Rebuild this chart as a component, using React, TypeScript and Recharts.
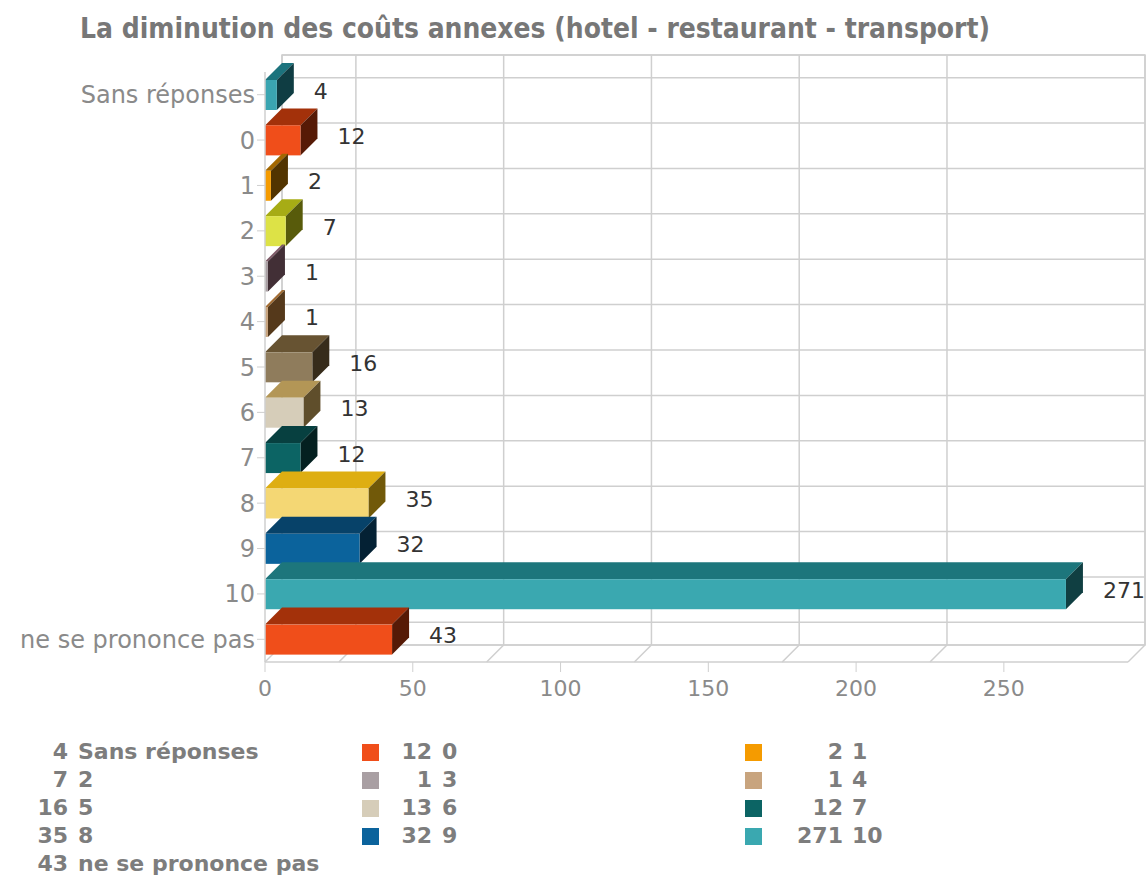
import React from 'react';
import {
  BarChart,
  Bar,
  XAxis,
  YAxis,
  CartesianGrid,
  Cell,
  LabelList,
  ReferenceArea,
  Legend,
} from 'recharts';

// ---------- data ----------
const categories = [
  'Sans réponses', '0', '1', '2', '3', '4', '5', '6', '7', '8', '9', '10', 'ne se prononce pas',
];
const counts = [4, 12, 2, 7, 1, 1, 16, 13, 12, 35, 32, 271, 43];
const barColors = [
  '#3aa5b1', '#f04e1a', '#f59b00', '#dde246', '#a99fa3', '#c8a47e', '#8f7c5c',
  '#d6cdb9', '#0c6464', '#f4d774', '#0b639c', '#3aa8b0', '#f04e1a',
];
const xTicks = [0, 50, 100, 150, 200, 250];
const gridValues = [25, 75, 125, 175, 225];
const xMax = 292;
const title = 'La diminution des coûts annexes (hotel - restaurant - transport)';

const data = categories.map((c, i) => ({ category: c, value: counts[i], color: barColors[i] }));

// ---------- layout ----------
const W = 1148;
const H = 878;
const DEPTH = 17;
const FONT = "'DejaVu Sans', Verdana, sans-serif";
const GRID = '#cfcfcf';

const legendSwatchX = [-17, 362, 745];
const legendValueRight = [68, 432, 843];
const legendLabelLeft = [78, 442, 852];
const legendRowH = 28;

function shade(hex: string, lf: number) {
  const n = parseInt(hex.slice(1), 16);
  const r = ((n >> 16) & 255) / 255;
  const g = ((n >> 8) & 255) / 255;
  const b = (n & 255) / 255;
  const max = Math.max(r, g, b);
  const min = Math.min(r, g, b);
  let h = 0;
  let s = 0;
  const l = (max + min) / 2;
  if (max !== min) {
    const d = max - min;
    s = l > 0.5 ? d / (2 - max - min) : d / (max + min);
    if (max === r) h = (g - b) / d + (g < b ? 6 : 0);
    else if (max === g) h = (b - r) / d + 2;
    else h = (r - g) / d + 4;
    h *= 60;
  }
  const s2 = Math.min(Math.max(s * 100, 78), s * 100 + 12);
  const l2 = l * 100 * lf;
  return `hsl(${h.toFixed(0)},${s2.toFixed(0)}%,${l2.toFixed(0)}%)`;
}

const Box3D = (props: any) => {
  const { x, y, width, height, fill } = props;
  if (width == null || height == null) return null;
  const d = DEPTH;
  return (
    <g>
      <polygon
        points={`${x},${y} ${x + d},${y - d} ${x + width + d},${y - d} ${x + width},${y}`}
        fill={shade(fill, 0.66)}
      />
      <polygon
        points={`${x + width},${y} ${x + width + d},${y - d} ${x + width + d},${y + height - d} ${x + width},${y + height}`}
        fill={shade(fill, 0.34)}
      />
      <rect x={x} y={y} width={width} height={height} fill={fill} />
    </g>
  );
};

const ValueLabel = (props: any) => {
  const { x, y, width, height, value } = props;
  return (
    <text
      x={Number(x) + Number(width) + DEPTH + 20}
      y={Number(y) + Number(height) / 2 - 4}
      dominantBaseline="central"
      fontSize={22}
      fill="#333"
      fontFamily={FONT}
    >
      {value}
    </text>
  );
};

// floor / wall diagonal from the back plane to the front edge
const FloorTick = (props: any) => {
  const { x, y } = props;
  return <line x1={x} y1={y} x2={x - DEPTH} y2={y + DEPTH} stroke={GRID} strokeWidth={1.5} />;
};

const LegendContent = () => (
  <div
    style={{
      position: 'relative',
      width: W,
      height: 5 * legendRowH,
      fontFamily: FONT,
      fontWeight: 'bold',
      fontSize: 22,
      color: '#7d7d7d',
      lineHeight: `${legendRowH}px`,
    }}
  >
    {data.map((d, i) => {
      const col = i % 3;
      const row = Math.floor(i / 3);
      return (
        <React.Fragment key={d.category}>
          <div
            style={{
              position: 'absolute',
              left: legendSwatchX[col],
              top: row * legendRowH + 6,
              width: 17,
              height: 17,
              background: d.color,
            }}
          />
          <div
            style={{
              position: 'absolute',
              right: W - legendValueRight[col],
              top: row * legendRowH,
              textAlign: 'right',
              whiteSpace: 'nowrap',
            }}
          >
            {d.value}
          </div>
          <div
            style={{
              position: 'absolute',
              left: legendLabelLeft[col],
              top: row * legendRowH,
              whiteSpace: 'nowrap',
            }}
          >
            {d.category}
          </div>
        </React.Fragment>
      );
    })}
  </div>
);

export default function App() {
  return (
    <div
      style={{
        position: 'absolute',
        left: 0,
        top: 0,
        width: W,
        height: H,
        background: '#fff',
        fontFamily: FONT,
        overflow: 'hidden',
      }}
    >
      <svg width={W} height={60} style={{ position: 'absolute', left: 0, top: 0 }}>
        <text
          x={80}
          y={38}
          textLength={910}
          lengthAdjust="spacingAndGlyphs"
          fontFamily="'Liberation Sans Narrow', 'DejaVu Sans Condensed', 'Liberation Sans', sans-serif"
          fontWeight="bold"
          fontSize={28}
          fill="#777"
        >
          {title}
        </text>
      </svg>

      {/* back plane: grid, walls and floor */}
      <div style={{ position: 'absolute', left: 0, top: 0 }}>
        <BarChart
          width={W}
          height={H}
          data={data}
          layout="vertical"
          margin={{ top: 35, right: 3, bottom: 213, left: 282 }}
        >
          <CartesianGrid stroke={GRID} strokeWidth={1.5} />
          <XAxis
            type="number"
            domain={[0, xMax]}
            ticks={[0, ...gridValues, xMax]}
            height={20}
            axisLine={false}
            tickLine={false}
            tickSize={0}
            tickMargin={0}
            tick={<FloorTick />}
            interval={0}
            allowDataOverflow
          />
          <XAxis
            xAxisId="top"
            orientation="top"
            type="number"
            domain={[0, xMax]}
            ticks={[0]}
            height={20}
            axisLine={false}
            tickLine={false}
            tickSize={0}
            tickMargin={0}
            tick={<FloorTick />}
            interval={0}
          />
          <YAxis type="category" dataKey="category" hide />
          <Bar dataKey="value" fill="transparent" barSize={1} isAnimationActive={false} />
          <ReferenceArea x1={0} x2={xMax} fill="none" fillOpacity={0} stroke={GRID} strokeWidth={1.5} />
        </BarChart>
      </div>

      {/* front: bars, axes, legend */}
      <div style={{ position: 'absolute', left: 0, top: 0 }}>
        <BarChart
          width={W}
          height={H}
          data={data}
          layout="vertical"
          margin={{ top: 72, right: 20, bottom: 176, left: 5 }}
          barSize={30}
        >
          <XAxis
            type="number"
            domain={[0, xMax]}
            ticks={xTicks}
            height={40}
            axisLine={{ stroke: GRID, strokeWidth: 1.5 }}
            tickLine={{ stroke: GRID }}
            tickSize={10}
            tickMargin={8}
            tick={{ fill: '#8a8a8a', fontSize: 22 }}
            interval={0}
          />
          <YAxis
            type="category"
            dataKey="category"
            width={260}
            axisLine={{ stroke: GRID, strokeWidth: 1.5 }}
            tickLine={{ stroke: GRID }}
            tickSize={8}
            tick={{ fill: '#8a8a8a', fontSize: 24 }}
            interval={0}
          />
          <Bar dataKey="value" shape={<Box3D />} isAnimationActive={false}>
            {data.map((d) => (
              <Cell key={d.category} fill={d.color} />
            ))}
            <LabelList dataKey="value" content={<ValueLabel />} />
          </Bar>
          <Legend
            layout="horizontal"
            verticalAlign="middle"
            align="center"
            wrapperStyle={{ position: 'absolute', left: 0, top: 738, width: W, height: 5 * legendRowH }}
            content={<LegendContent />}
          />
        </BarChart>
      </div>
    </div>
  );
}
